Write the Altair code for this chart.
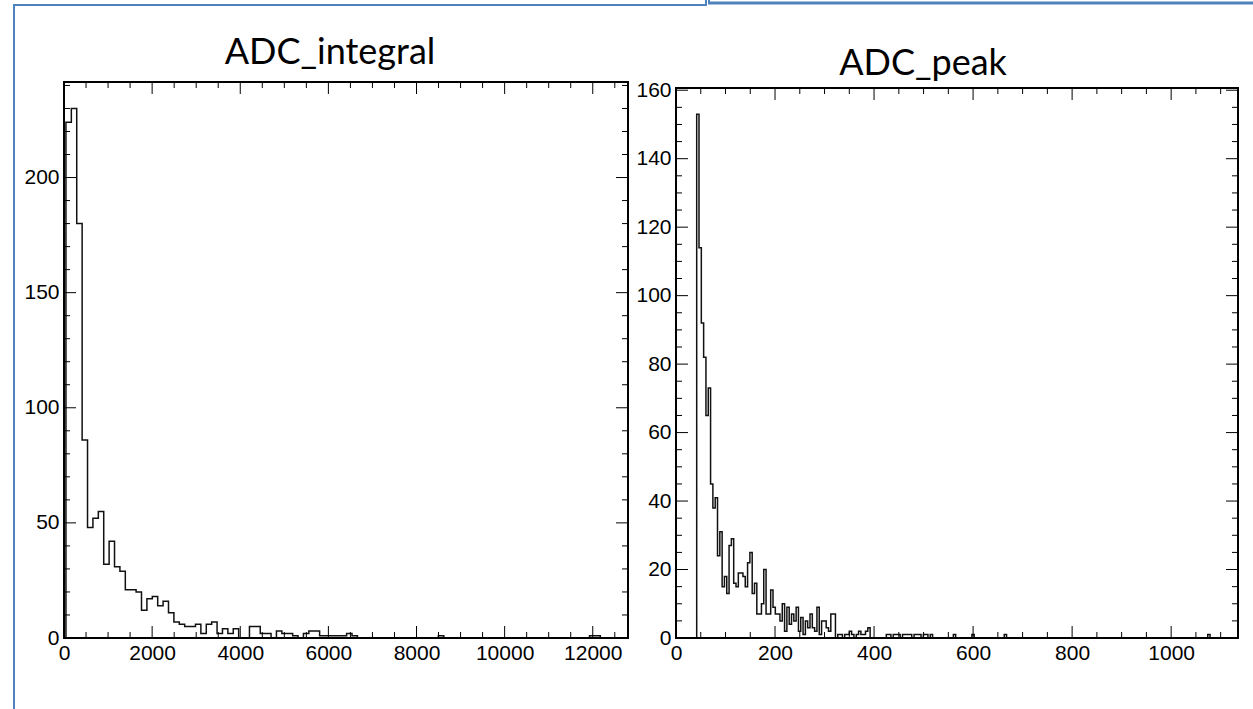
import altair as alt
import pandas as pd

# ---------------- data ----------------
titles = ["ADC_integral", "ADC_peak"]

# ADC_integral histogram (bin contents, first dense part)
integral_bin_start = 44.0
integral_bin_width = 122.5
integral_counts = [224, 230, 180, 86, 48, 52, 55, 32, 42, 31,
                   29, 21, 21, 20, 12, 17, 18, 14, 16, 11,
                   7, 6, 5, 5, 6, 2, 6, 7, 2, 4,
                   2, 4, 0, 0, 5, 5, 2, 2, 0, 3,
                   2, 2, 1, 0, 2, 3, 3, 1, 1, 1,
                   1, 1, 2, 1]
integral_tail_bins = [69, 97, 98]
integral_tail_counts = [1, 1, 1]
integral_xmax = 12800
integral_ymax = 241.5
integral_x_labels = [0, 2000, 4000, 6000, 8000, 10000, 12000]
integral_y_labels = [0, 50, 100, 150, 200]

# ADC_peak histogram
peak_bin_start = 41.8
peak_bin_width = 4.67
peak_counts = [153, 114, 92, 82, 65, 73, 45, 38, 41, 24,
               31, 15, 18, 13, 27, 29, 16, 15, 19, 19,
               18, 15, 22, 25, 13, 16, 7, 7, 10, 20,
               7, 7, 14, 9, 7, 7, 5, 10, 2, 9,
               4, 7, 5, 9, 2, 6, 1, 5, 3, 7,
               3, 2, 9, 1, 5, 5, 3, 2, 7, 7,
               0, 1, 1, 0, 1, 1, 2, 1, 0, 1,
               2, 1, 1, 2, 3, 0, 0, 0, 0, 0,
               0, 0, 1, 1, 0, 1, 1, 1, 0, 1,
               1, 1, 1, 0, 1, 1, 1, 0, 1, 1,
               0, 1]
peak_tail_bins = [111, 119, 133, 221]
peak_tail_counts = [1, 1, 1, 1]
peak_xmax = 1135
peak_ymax = 160.65
peak_x_labels = [0, 200, 400, 600, 800, 1000]
peak_y_labels = [0, 20, 40, 60, 80, 100, 120, 140, 160]

# ---------------- layout (pixels) ----------------
W, H, PB = 1253, 638, 71
LEFT = dict(x0=64, x1=628, y0=638, y1=82)
RIGHT = dict(x0=676, x1=1238, y0=638, y1=88)
MAJOR, MINOR = 12, 6
FONT = "Liberation Sans"
LABEL_SIZE = 21
BLUE = "#4F81BD"

one = pd.DataFrame({"k": [0]})


def full_counts(dense, tail_bins, tail_counts):
    n = max(len(dense), max(tail_bins) + 1)
    c = list(dense) + [0] * (n - len(dense))
    for b, v in zip(tail_bins, tail_counts):
        c[b] = v
    return c


def panel(counts, start, width, xmax, ymax, box, xlab, ylab, xstep, xmaj, ystep, ymaj):
    xs = alt.Scale(domain=[0, xmax], range=[box["x0"], box["x1"]], nice=False, zero=False)
    ys = alt.Scale(domain=[0, ymax], range=[box["y0"], box["y1"]], nice=False, zero=False)
    n = len(counts)
    px = [start] + [start + width * i for i in range(n)] + [start + width * n]
    py = [0] + list(counts) + [0]
    df = pd.DataFrame({"x": px, "y": py, "i": list(range(len(px)))})

    line = alt.Chart(df).mark_line(interpolate="step-after", color="#111111", strokeWidth=1.5).encode(
        x=alt.X("x:Q", scale=xs, axis=alt.Axis(orient="bottom", values=xlab, format="d", ticks=False,
                                                domain=False, grid=False, labelFont=FONT,
                                                labelFontSize=LABEL_SIZE, labelColor="black",
                                                labelPadding=4, labelFlush=False,
                                                labelOverlap=False, title=None)),
        y=alt.Y("y:Q", scale=ys, axis=alt.Axis(orient="left", offset=-box["x0"], values=ylab, format="d",
                                                ticks=False, domain=False, grid=False, labelFont=FONT,
                                                labelFontSize=LABEL_SIZE, labelColor="black", labelPadding=5,
                                                labelFlush=False, labelOverlap=False, title=None)),
        order="i:Q",
    )

    # x ticks (bottom and top), pointing inward
    rows = []
    v = 0
    while v <= xmax:
        ln = MAJOR if v % xmaj == 0 else MINOR
        rows.append({"v": v, "p0": box["y0"], "p1": box["y0"] - ln})
        rows.append({"v": v, "p0": box["y1"], "p1": box["y1"] + ln})
        v += xstep
    tx = pd.DataFrame(rows)
    xticks = alt.Chart(tx).mark_rule(color="black", strokeWidth=1).encode(
        x=alt.X("v:Q", scale=xs, axis=None),
        y=alt.Y("p0:Q", scale=None, axis=None), y2="p1:Q")

    rows = []
    v = 0
    while v <= ymax:
        ln = MAJOR if v % ymaj == 0 else MINOR
        rows.append({"v": v, "p0": box["x0"], "p1": box["x0"] + ln})
        rows.append({"v": v, "p0": box["x1"], "p1": box["x1"] - ln})
        v += ystep
    ty = pd.DataFrame(rows)
    yticks = alt.Chart(ty).mark_rule(color="black", strokeWidth=1).encode(
        y=alt.Y("v:Q", scale=ys, axis=None),
        x=alt.X("p0:Q", scale=None, axis=None), x2="p1:Q")

    frame = alt.Chart(one).mark_rect(fillOpacity=0, stroke="black", strokeWidth=2).encode(
        x=alt.X(datum=0, scale=xs, axis=None), x2=alt.X2(datum=xmax),
        y=alt.Y(datum=0, scale=ys, axis=None), y2=alt.Y2(datum=ymax))
    return [line, xticks, yticks, frame]


left_layers = panel(full_counts(integral_counts, integral_tail_bins, integral_tail_counts),
                    integral_bin_start, integral_bin_width, integral_xmax, integral_ymax, LEFT,
                    integral_x_labels, integral_y_labels, 500, 2000, 10, 50)
right_layers = panel(full_counts(peak_counts, peak_tail_bins, peak_tail_counts),
                     peak_bin_start, peak_bin_width, peak_xmax, peak_ymax, RIGHT,
                     peak_x_labels, peak_y_labels, 50, 200, 5, 20)

title_df = pd.DataFrame({"t": titles})
t1 = alt.Chart(title_df.iloc[[0]]).mark_text(font="Lato", fontSize=36, color="black",
                                             align="center", baseline="alphabetic").encode(
    text="t:N", x=alt.value(330), y=alt.value(64))
t2 = alt.Chart(title_df.iloc[[1]]).mark_text(font="Lato", fontSize=36, color="black",
                                             align="center", baseline="alphabetic").encode(
    text="t:N", x=alt.value(923), y=alt.value(75))

# slide outline boxes (decoration)
b1 = alt.Chart(one).mark_rule(color=BLUE, strokeWidth=2).encode(x=alt.value(14), y=alt.value(5), y2=alt.value(H + PB))
b2 = alt.Chart(one).mark_rule(color=BLUE, strokeWidth=2).encode(x=alt.value(13), x2=alt.value(707), y=alt.value(5))
b3 = alt.Chart(one).mark_rule(color=BLUE, strokeWidth=2).encode(x=alt.value(706), y=alt.value(0), y2=alt.value(5))
b4 = alt.Chart(one).mark_rule(color=BLUE, strokeWidth=3).encode(x=alt.value(708), x2=alt.value(W), y=alt.value(3))
b5 = alt.Chart(one).mark_rule(color=BLUE, strokeWidth=2).encode(x=alt.value(709), y=alt.value(0), y2=alt.value(3))

chart = alt.layer(*left_layers, *right_layers, t1, t2, b1, b2, b3, b4, b5).resolve_scale(
    x="independent", y="independent"
).properties(
    width=W, height=H,
    padding={"left": 0, "top": 0, "right": 0, "bottom": PB},
    autosize=alt.AutoSizeParams(type="none"),
    background="white",
).configure_view(strokeWidth=0)

chart.save("out.html", embed_options={"renderer": "svg", "actions": False})
